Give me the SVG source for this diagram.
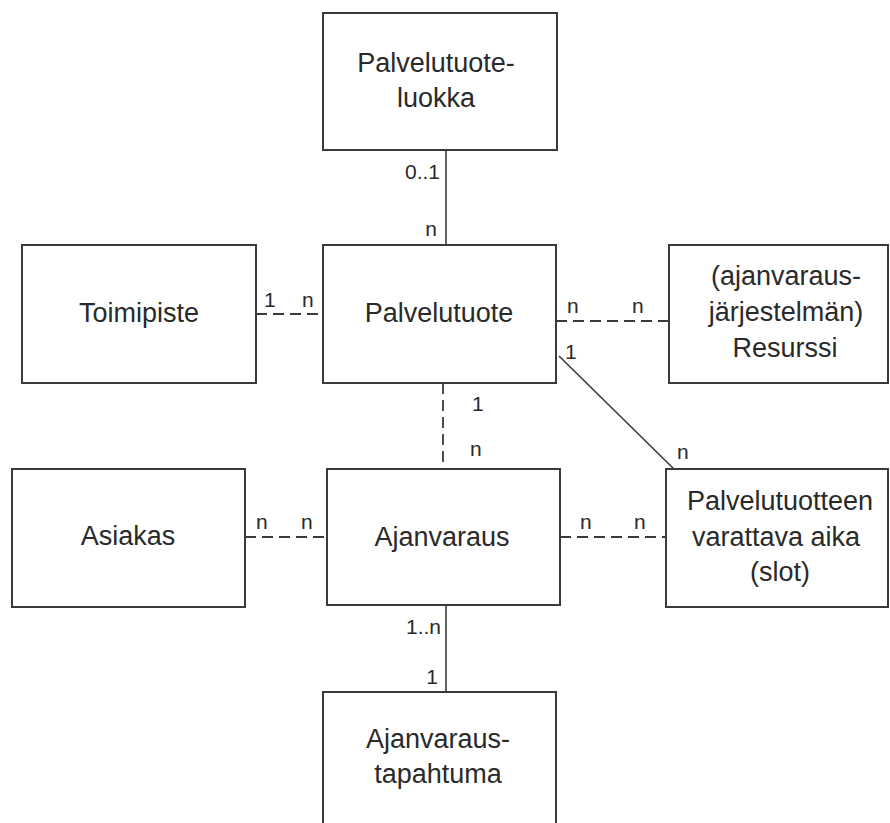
<svg xmlns="http://www.w3.org/2000/svg" width="890" height="823" viewBox="0 0 890 823">
  <style>
    .box { fill: #ffffff; stroke: #3a3a3a; stroke-width: 2; }
    .t { font-family: "Liberation Sans", Arial, sans-serif; font-size: 27px; fill: #2a2a2a; text-anchor: middle; }
    .m { font-family: "Liberation Sans", Arial, sans-serif; font-size: 21px; fill: #2a2a2a; }
    .solid { fill: none; stroke: #3a3a3a; stroke-width: 1.6; }
    .dash { fill: none; stroke: #3a3a3a; stroke-width: 1.8; stroke-dasharray: 11 6; }
  </style>
  <rect width="890" height="823" fill="#ffffff"/>

  <g id="connectors">
    <line class="solid" x1="446" y1="150" x2="446" y2="245"/>
    <line class="dash" x1="256" y1="314" x2="323" y2="314"/>
    <line class="dash" x1="556" y1="321" x2="669" y2="321"/>
    <line class="solid" x1="559" y1="356" x2="677" y2="472"/>
    <line class="dash" x1="443" y1="383" x2="443" y2="469"/>
    <line class="dash" x1="245" y1="537" x2="327" y2="537"/>
    <line class="dash" x1="560" y1="537" x2="666" y2="537"/>
    <line class="solid" x1="446" y1="605" x2="446" y2="692"/>
  </g>

  <g id="multiplicities">
    <text class="m" x="440" y="179" text-anchor="end">0..1</text>
    <text class="m" x="437" y="236" text-anchor="end">n</text>
    <text class="m" x="264" y="307">1</text>
    <text class="m" x="302" y="307">n</text>
    <text class="m" x="567" y="313">n</text>
    <text class="m" x="632" y="313">n</text>
    <text class="m" x="565" y="359">1</text>
    <text class="m" x="472" y="411">1</text>
    <text class="m" x="470" y="456">n</text>
    <text class="m" x="677" y="459">n</text>
    <text class="m" x="256" y="529">n</text>
    <text class="m" x="301" y="529">n</text>
    <text class="m" x="580" y="529">n</text>
    <text class="m" x="634" y="529">n</text>
    <text class="m" x="441" y="634" text-anchor="end">1..n</text>
    <text class="m" x="438" y="684" text-anchor="end">1</text>
  </g>

  <g id="palvelutuoteluokka">
    <rect class="box" x="323" y="13" width="234" height="137"/>
    <text class="t" x="436" y="72">Palvelutuote-</text>
    <text class="t" x="436" y="107">luokka</text>
  </g>

  <g id="toimipiste">
    <rect class="box" x="22" y="245" width="234" height="138"/>
    <text class="t" x="139" y="322">Toimipiste</text>
  </g>

  <g id="palvelutuote">
    <rect class="box" x="323" y="245" width="233" height="138"/>
    <text class="t" x="439" y="322">Palvelutuote</text>
  </g>

  <g id="resurssi">
    <rect class="box" x="669" y="245" width="219" height="138"/>
    <text class="t" x="786" y="285">(ajanvaraus-</text>
    <text class="t" x="786" y="321">järjestelmän)</text>
    <text class="t" x="785" y="357">Resurssi</text>
  </g>

  <g id="asiakas">
    <rect class="box" x="12" y="469" width="233" height="138"/>
    <text class="t" x="128" y="545">Asiakas</text>
  </g>

  <g id="ajanvaraus">
    <rect class="box" x="327" y="469" width="233" height="136"/>
    <text class="t" x="442" y="546">Ajanvaraus</text>
  </g>

  <g id="slot">
    <rect class="box" x="666" y="469" width="222" height="138"/>
    <text class="t" x="780" y="510">Palvelutuotteen</text>
    <text class="t" x="776" y="546">varattava aika</text>
    <text class="t" x="780" y="581">(slot)</text>
  </g>

  <g id="ajanvaraustapahtuma">
    <rect class="box" x="323" y="692" width="233" height="140"/>
    <text class="t" x="438" y="748">Ajanvaraus-</text>
    <text class="t" x="438" y="783">tapahtuma</text>
  </g>
</svg>
